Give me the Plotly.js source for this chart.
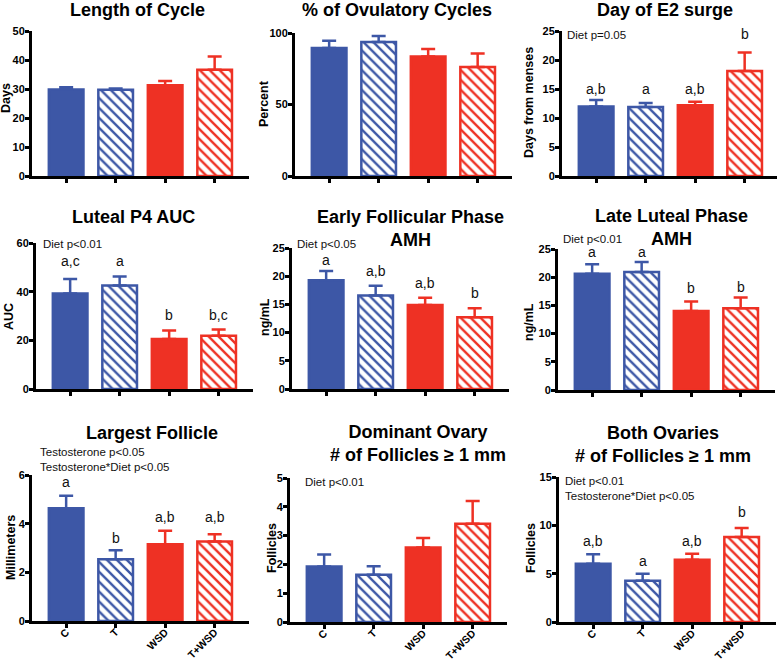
<!DOCTYPE html>
<html>
<head>
<meta charset="utf-8">
<script src="https://cdn.plot.ly/plotly-3.0.1.min.js"></script>
<style>html,body{margin:0;padding:0;background:#fff}#chart{width:778px;height:661px}</style>
</head>
<body>
<div id="chart"></div>
<script>
// ---- data ----
const groups = ['C', 'T', 'WSD', 'T+WSD'];

const cycleLength = [29.8, 29.7, 31.3, 36.6];
const cycleLengthSem = [0.8, 0.5, 1.5, 4.6];

const ovulatoryPct = [89.5, 93.7, 83.6, 76.2];
const ovulatoryPctSem = [5.1, 4.2, 5.2, 9.5];

const e2SurgeDay = [12.0, 11.9, 12.2, 18.1];
const e2SurgeDaySem = [1.1, 0.7, 0.6, 3.2];

const lutealP4Auc = [39.2, 42.5, 20.5, 21.9];
const lutealP4AucSem = [6.0, 3.7, 3.5, 2.6];

const earlyFollAmh = [19.3, 16.6, 14.9, 12.7];
const earlyFollAmhSem = [1.6, 1.7, 1.3, 1.6];

const lateLutealAmh = [20.6, 20.9, 14.0, 14.5];
const lateLutealAmhSem = [1.7, 1.8, 1.7, 1.9];

const largestFollicle = [4.63, 2.54, 3.15, 3.27];
const largestFollicleSem = [0.52, 0.37, 0.56, 0.29];

const dominantOvaryFollicles = [1.93, 1.64, 2.59, 3.41];
const dominantOvaryFolliclesSem = [0.41, 0.30, 0.33, 0.79];

const bothOvariesFollicles = [6.03, 4.28, 6.45, 8.79];
const bothOvariesFolliclesSem = [0.97, 0.72, 0.62, 0.93];

const panelTitles = ['Length of Cycle', '% of Ovulatory Cycles', 'Day of E2 surge',
  'Luteal P4 AUC', 'Early Follicular Phase<br>AMH', 'Late Luteal Phase<br>AMH',
  'Largest Follicle', 'Dominant Ovary<br># of Follicles ≥ 1 mm', 'Both Ovaries<br># of Follicles ≥ 1 mm'];
const yTitles = ['Days', 'Percent', 'Days from menses', 'AUC', 'ng/mL', 'ng/mL', 'Millimeters', 'Follicles', 'Follicles'];

const statTexts = [[], [], ['Diet p=0.05'], ['Diet p<0.01'], ['Diet p<0.05'], ['Diet p<0.01'],
  ['Testosterone p<0.05', 'Testosterone*Diet p<0.05'], ['Diet p<0.01'], ['Diet p<0.01', 'Testosterone*Diet p<0.05']];

const sigLetters = [null, null, ['a,b', 'a', 'a,b', 'b'], ['a,c', 'a', 'b', 'b,c'], ['a', 'a,b', 'a,b', 'b'],
  ['a', 'a', 'b', 'b'], ['a', 'b', 'a,b', 'a,b'], null, ['a,b', 'a', 'a,b', 'b']];
const sigLetterY = [null, null, [14.8, 14.8, 14.8, 24.3], [52, 52, 30, 30], [22.7, 20.8, 18.7, 16.8],
  [24.3, 24.3, 17.9, 18.0], [5.66, 3.36, 4.25, 4.25], null, [8.3, 6.17, 8.3, 11.3]];

const yMax = [50, 100, 25, 60, 25, 25, 6, 5, 15];
const yStep = [10, 50, 5, 20, 5, 5, 2, 1, 5];

const means = [cycleLength, ovulatoryPct, e2SurgeDay, lutealP4Auc, earlyFollAmh, lateLutealAmh,
  largestFollicle, dominantOvaryFollicles, bothOvariesFollicles];
const sems = [cycleLengthSem, ovulatoryPctSem, e2SurgeDaySem, lutealP4AucSem, earlyFollAmhSem, lateLutealAmhSem,
  largestFollicleSem, dominantOvaryFolliclesSem, bothOvariesFolliclesSem];

// ---- layout geometry (pixels) ----
const W = 778, H = 661;
const geom = [
  {x0: 32, yt: 31, yb: 176}, {x0: 295, yt: 33, yb: 176}, {x0: 562, yt: 31, yb: 176},
  {x0: 36, yt: 243, yb: 389}, {x0: 292, yt: 248, yb: 389}, {x0: 558, yt: 249, yb: 390},
  {x0: 32, yt: 475, yb: 621}, {x0: 290, yt: 478, yb: 622}, {x0: 559, yt: 477, yb: 622}
];
const titlePos = [[137, 10], [397, 10], [665, 10], [133, 217], [410, 228], [671, 227], [152, 433], [418, 443], [663, 444]];
const yTitlePos = [[6, 98], [264, 104], [529, 103], [9, 317], [265, 317], [529, 322], [11, 548], [272, 548], [531, 548]];
const statPos = [null, null, [565, 35], [41, 244], [295, 244], [561, 239], [38, 452], [303, 482], [563, 481]];
const statLineGap = [0, 0, 0, 0, 0, 0, 14.5, 0, 15];

const BLUE = '#3D57A6', RED = '#EE3124';
const FONT = 'Liberation Sans, Arial, Helvetica, sans-serif';
const catPx = 49.5, startOff = -0.69;

const traces = [];
const layout = {
  width: W, height: H, margin: {l: 0, r: 0, t: 0, b: 0},
  paper_bgcolor: '#fff', plot_bgcolor: 'rgba(0,0,0,0)',
  showlegend: false, barmode: 'overlay',
  font: {family: FONT, color: '#000'},
  annotations: []
};

const colorOf = [BLUE, BLUE, RED, RED];
const hatched = [false, true, false, true];

for (let i = 0; i < 9; i++) {
  const s = i === 0 ? '' : String(i + 1);
  const g = geom[i];
  const x1 = Math.min(g.x0 + 4.39 * catPx, 777);
  const xEnd = startOff + (x1 - g.x0) / catPx;
  const bottomRow = i >= 6;
  layout['xaxis' + s] = {
    domain: [g.x0 / W, x1 / W], anchor: 'y' + s, type: 'category',
    categoryorder: 'array', categoryarray: groups,
    range: [startOff, xEnd], showline: true, linewidth: 3, linecolor: '#000',
    ticks: 'outside', ticklen: 4, tickwidth: 3, tickcolor: '#000',
    showgrid: false, zeroline: false, fixedrange: true,
    showticklabels: bottomRow, tickangle: -45, ticklabelstandoff: -6,
    tickfont: {family: FONT, size: 10.5, weight: 'bold', color: '#000'}
  };
  layout['yaxis' + s] = {
    domain: [1 - g.yb / H, 1 - g.yt / H], anchor: 'x' + s,
    range: [0, yMax[i]], dtick: yStep[i], tick0: 0,
    showline: true, linewidth: 3, linecolor: '#000',
    ticks: 'outside', ticklen: 4, tickwidth: 3, tickcolor: '#000',
    showgrid: false, zeroline: false, fixedrange: true, ticklabelstandoff: -2,
    tickfont: {family: FONT, size: 11, weight: 'bold', color: '#000'}
  };
  for (let k = 0; k < 4; k++) {
    const col = colorOf[k];
    const marker = {color: hatched[k] ? '#fff' : col, line: {color: col, width: 2.5}};
    if (hatched[k]) {
      marker.pattern = {shape: '\\', fgcolor: col, bgcolor: '#fff', size: 7, solidity: 0.34, fillmode: 'replace'};
    }
    traces.push({
      type: 'bar', xaxis: 'x' + s, yaxis: 'y' + s,
      x: [groups[k]], y: [means[i][k]], width: 0.7, marker: marker,
      error_y: {type: 'data', symmetric: false, array: [sems[i][k]], arrayminus: [0],
        color: col, thickness: 2.5, width: 7},
      hoverinfo: 'skip'
    });
  }
  // panel title
  layout.annotations.push({
    xref: 'paper', yref: 'paper', x: titlePos[i][0] / W, y: 1 - titlePos[i][1] / H,
    xanchor: 'center', yanchor: 'middle', showarrow: false, text: panelTitles[i],
    font: {family: FONT, size: 18, weight: 'bold', color: '#000'}
  });
  // y-axis title
  layout.annotations.push({
    xref: 'paper', yref: 'paper', x: yTitlePos[i][0] / W, y: 1 - yTitlePos[i][1] / H,
    xanchor: 'center', yanchor: 'middle', showarrow: false, text: yTitles[i], textangle: -90,
    font: {family: FONT, size: 12.5, weight: 'bold', color: '#000'}
  });
  // stat texts
  statTexts[i].forEach((t, k) => {
    layout.annotations.push({
      xref: 'paper', yref: 'paper', x: statPos[i][0] / W, y: 1 - (statPos[i][1] + k * statLineGap[i]) / H,
      xanchor: 'left', yanchor: 'middle', showarrow: false, text: t,
      font: {family: FONT, size: 11.5, color: '#111'}
    });
  });
  // significance letters
  if (sigLetters[i]) {
    sigLetters[i].forEach((t, k) => {
      layout.annotations.push({
        xref: 'x' + s, yref: 'y' + s, x: groups[k], y: sigLetterY[i][k],
        xanchor: 'center', yanchor: 'middle', showarrow: false, text: t, yshift: 1,
        font: {family: FONT, size: 14, color: '#111'}
      });
    });
  }
}

Plotly.newPlot('chart', traces, layout, {staticPlot: true, displayModeBar: false});
</script>
</body>
</html>
